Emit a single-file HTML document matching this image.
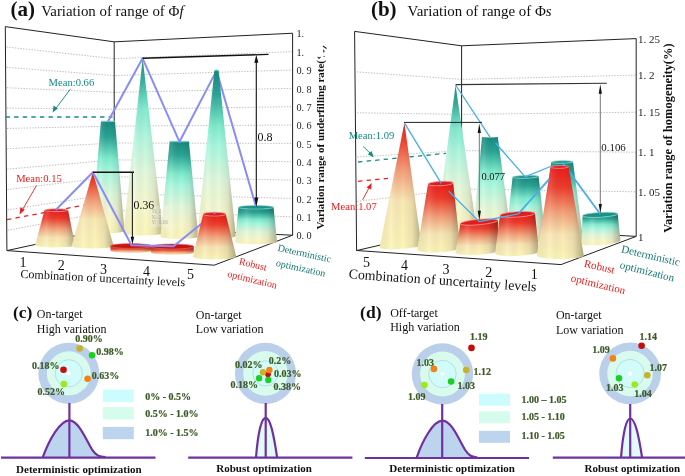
<!DOCTYPE html>
<html><head><meta charset="utf-8"><style>
html,body{margin:0;padding:0;background:#fff;width:685px;height:476px;overflow:hidden}
svg{display:block;will-change:transform}
text{font-family:"Liberation Serif", serif}
</style></head><body>
<svg width="685" height="476" viewBox="0 0 685 476">
<defs>
<linearGradient id="gT" x1="0" y1="0" x2="0" y2="1">
  <stop offset="0" stop-color="#178a7e"/>
  <stop offset="0.14" stop-color="#2aa494"/>
  <stop offset="0.33" stop-color="#7eeccd"/>
  <stop offset="0.45" stop-color="#a8f8df"/>
  <stop offset="0.66" stop-color="#e2f8dc"/>
  <stop offset="0.86" stop-color="#f9f8cc"/>
  <stop offset="1" stop-color="#fcf6ba"/>
</linearGradient>
<linearGradient id="gR" x1="0" y1="0" x2="0" y2="1">
  <stop offset="0" stop-color="#e81c1a"/>
  <stop offset="0.22" stop-color="#ee3c2c"/>
  <stop offset="0.5" stop-color="#f4a47c"/>
  <stop offset="0.73" stop-color="#f9e6b4"/>
  <stop offset="1" stop-color="#fcf6b8"/>
</linearGradient>
<linearGradient id="gTp" x1="0" y1="0" x2="0" y2="1">
  <stop offset="0" stop-color="#1a8c80"/>
  <stop offset="0.12" stop-color="#36ae9c"/>
  <stop offset="0.28" stop-color="#82eacf"/>
  <stop offset="0.45" stop-color="#b4f6e0"/>
  <stop offset="0.65" stop-color="#e4f8dc"/>
  <stop offset="0.85" stop-color="#f8f8cc"/>
  <stop offset="1" stop-color="#fcf6ba"/>
</linearGradient>
<linearGradient id="gRp" x1="0" y1="0" x2="0" y2="1">
  <stop offset="0" stop-color="#e81c1a"/>
  <stop offset="0.14" stop-color="#ee4430"/>
  <stop offset="0.38" stop-color="#f4a07c"/>
  <stop offset="0.62" stop-color="#f9e8b4"/>
  <stop offset="1" stop-color="#fcf6b8"/>
</linearGradient>
<linearGradient id="gS" x1="0" y1="0" x2="1" y2="0">
  <stop offset="0" stop-color="#000" stop-opacity="0.04"/>
  <stop offset="0.28" stop-color="#fff" stop-opacity="0.12"/>
  <stop offset="0.55" stop-color="#000" stop-opacity="0"/>
  <stop offset="0.78" stop-color="#000" stop-opacity="0.07"/>
  <stop offset="1" stop-color="#000" stop-opacity="0.3"/>
</linearGradient>
<linearGradient id="gDisk" x1="0" y1="0" x2="0" y2="1">
  <stop offset="0" stop-color="#d01818"/>
  <stop offset="0.45" stop-color="#e04a30"/>
  <stop offset="0.7" stop-color="#f4a878"/>
  <stop offset="1" stop-color="#f8ecc0"/>
</linearGradient>
</defs>
<rect width="685" height="476" fill="#fff"/>
<text x="10.6" y="15.8" font-size="21" fill="#111" font-weight="bold" text-anchor="start"  >(a)</text>
<text x="41.2" y="15.5" font-size="14.9" fill="#111">Variation of range of Φ<tspan font-style="italic">f</tspan></text>
<polyline points="7.75,230.24 114.2,210.44 292.6,216.84" stroke="#b4b4b4" stroke-width="0.85" stroke-dasharray="1.4 1.4" fill="none"/>
<polyline points="7.61,209.88 114.2,193.58 292.6,198.48" stroke="#b4b4b4" stroke-width="0.85" stroke-dasharray="1.4 1.4" fill="none"/>
<polyline points="7.46,189.52 114.2,176.72 292.6,180.12" stroke="#b4b4b4" stroke-width="0.85" stroke-dasharray="1.4 1.4" fill="none"/>
<polyline points="7.32,169.16 114.2,159.86 292.6,161.76" stroke="#b4b4b4" stroke-width="0.85" stroke-dasharray="1.4 1.4" fill="none"/>
<polyline points="7.17,148.8 114.2,143 292.6,143.4" stroke="#b4b4b4" stroke-width="0.85" stroke-dasharray="1.4 1.4" fill="none"/>
<polyline points="7.03,128.44 114.2,126.14 292.6,125.04" stroke="#b4b4b4" stroke-width="0.85" stroke-dasharray="1.4 1.4" fill="none"/>
<polyline points="6.88,108.08 114.2,109.28 292.6,106.68" stroke="#b4b4b4" stroke-width="0.85" stroke-dasharray="1.4 1.4" fill="none"/>
<polyline points="6.74,87.72 114.2,92.42 292.6,88.32" stroke="#b4b4b4" stroke-width="0.85" stroke-dasharray="1.4 1.4" fill="none"/>
<polyline points="6.59,67.36 114.2,75.56 292.6,69.96" stroke="#b4b4b4" stroke-width="0.85" stroke-dasharray="1.4 1.4" fill="none"/>
<polyline points="6.45,47 114.2,58.7 292.6,51.6" stroke="#b4b4b4" stroke-width="0.85" stroke-dasharray="1.4 1.4" fill="none"/>
<line x1="5.3" y1="26.64" x2="6.9" y2="250.6" stroke="#222" stroke-width="1" />
<polyline points="5.3,26.64 114.2,41.84 292.6,33.24 292.6,235.2" stroke="#222" stroke-width="1" fill="none" stroke-linejoin="round" />
<line x1="114.2" y1="41.84" x2="114.2" y2="227.3" stroke="#222" stroke-width="1" />
<polyline points="6.9,250.6 114.2,227.3 292.6,235.2" stroke="#222" stroke-width="1" fill="none" stroke-linejoin="round" />
<polyline points="6.9,250.6 214.2,265.2 292.6,235.2" stroke="#222" stroke-width="1" fill="none" stroke-linejoin="round" />
<text x="296.4" y="239.4" font-size="10.2" fill="#222" font-weight="normal" text-anchor="start"  >0. 0</text>
<text x="296.4" y="221.04" font-size="10.2" fill="#222" font-weight="normal" text-anchor="start"  >0. 1</text>
<text x="296.4" y="202.68" font-size="10.2" fill="#222" font-weight="normal" text-anchor="start"  >0. 2</text>
<text x="296.4" y="184.32" font-size="10.2" fill="#222" font-weight="normal" text-anchor="start"  >0. 3</text>
<text x="296.4" y="165.96" font-size="10.2" fill="#222" font-weight="normal" text-anchor="start"  >0. 4</text>
<text x="296.4" y="147.6" font-size="10.2" fill="#222" font-weight="normal" text-anchor="start"  >0. 5</text>
<text x="296.4" y="129.24" font-size="10.2" fill="#222" font-weight="normal" text-anchor="start"  >0. 6</text>
<text x="296.4" y="110.88" font-size="10.2" fill="#222" font-weight="normal" text-anchor="start"  >0. 7</text>
<text x="296.4" y="92.52" font-size="10.2" fill="#222" font-weight="normal" text-anchor="start"  >0. 8</text>
<text x="296.4" y="74.16" font-size="10.2" fill="#222" font-weight="normal" text-anchor="start"  >0. 9</text>
<text x="296.4" y="55.8" font-size="10.2" fill="#222" font-weight="normal" text-anchor="start"  >1.</text>
<text x="296.4" y="37.44" font-size="10.2" fill="#222" font-weight="normal" text-anchor="start"  >1.</text>
<text transform="translate(324.4,229.5) rotate(-90)" font-size="11" font-weight="bold" fill="#111">Variation range of underfilling rate(</text>
<path d="M317.6,57.4 Q319,59.6 320.6,57.4 Z" fill="#222" stroke="#222" stroke-width="0.6"/>
<circle cx="324.1" cy="56.4" r="0.65" fill="#333"/>
<ellipse cx="323.8" cy="51.1" rx="0.7" ry="1.6" fill="#333"/>
<line x1="323.3" y1="46.3" x2="326.2" y2="48.3" stroke="#222" stroke-width="1.1" stroke-linecap="round"/>
<line x1="5.5" y1="117" x2="112.5" y2="117" stroke="#148a84" stroke-width="1.3" stroke-dasharray="4.4 4.2"/>
<text x="48.6" y="86.4" font-size="10.6" fill="#148a84" font-weight="normal" text-anchor="start"  >Mean:0.66</text>
<line x1="70.5" y1="88.8" x2="55.5" y2="109" stroke="#148a84" stroke-width="0.9"/>
<path d="M52.6,112.6 L53.6,105.6 L57.8,108.6 Z" fill="#148a84"/>
<line x1="7" y1="219.6" x2="84" y2="205.2" stroke="#e8201e" stroke-width="1.3" stroke-dasharray="4.4 4.2"/>
<text x="16.2" y="181.7" font-size="10.6" fill="#e8201e" font-weight="normal" text-anchor="start"  >Mean:0.15</text>
<line x1="36.5" y1="185.5" x2="22" y2="210.5" stroke="#e8201e" stroke-width="0.9"/>
<path d="M19.6,214.6 L20.4,207.2 L24.8,209.8 Z" fill="#e8201e"/>
<path d="M101,121.3 L91.5,231 A16.5,2 0 0 0 124.5,231 L115,121.3 A7,0.25 0 0 1 101,121.3 Z" fill="url(#gT)"/>
<path d="M101,121.3 L91.5,231 A16.5,2 0 0 0 124.5,231 L115,121.3 A7,0.25 0 0 1 101,121.3 Z" fill="url(#gS)"/>
<ellipse cx="108" cy="121.3" rx="7" ry="0.25" fill="#1c9185" stroke="#7fd2c6" stroke-width="0.7"/>
<path d="M142.7,58.3 L123.4,233 A19.8,2.38 0 0 0 163,233 Z" fill="url(#gTp)"/>
<path d="M142.7,58.3 L123.4,233 A19.8,2.38 0 0 0 163,233 Z" fill="url(#gS)"/>
<path d="M169.7,141.5 L160.3,236.6 A19,2.28 0 0 0 198.3,236.6 L188.9,141.5 A9.6,0.3 0 0 1 169.7,141.5 Z" fill="url(#gT)"/>
<path d="M169.7,141.5 L160.3,236.6 A19,2.28 0 0 0 198.3,236.6 L188.9,141.5 A9.6,0.3 0 0 1 169.7,141.5 Z" fill="url(#gS)"/>
<ellipse cx="179.3" cy="141.5" rx="9.6" ry="0.3" fill="#1c9185" stroke="#7fd2c6" stroke-width="0.7"/>
<polyline points="108,121.5 142.6,58.3 179.5,141.8 216.5,70.6 256,206.6" stroke="#8a8cf8" stroke-width="2" fill="none" stroke-linejoin="round"/>
<path d="M214.4,70.4 L197.2,236 A19.3,2.32 0 0 0 235.8,236 L218.6,70.4 A2.1,0.3 0 0 1 214.4,70.4 Z" fill="url(#gT)"/>
<path d="M214.4,70.4 L197.2,236 A19.3,2.32 0 0 0 235.8,236 L218.6,70.4 A2.1,0.3 0 0 1 214.4,70.4 Z" fill="url(#gS)"/>
<ellipse cx="216.5" cy="70.4" rx="2.1" ry="0.3" fill="#1c9185" stroke="#7fd2c6" stroke-width="0.7"/>
<path d="M238.5,207.3 L235,241.8 A21,2.5 0 0 0 277,241.8 L273.5,207.3 A17.5,1.8 0 0 1 238.5,207.3 Z" fill="url(#gT)"/>
<path d="M238.5,207.3 L235,241.8 A21,2.5 0 0 0 277,241.8 L273.5,207.3 A17.5,1.8 0 0 1 238.5,207.3 Z" fill="url(#gS)"/>
<ellipse cx="256" cy="207.3" rx="17.5" ry="1.8" fill="#1c9185" stroke="#7fd2c6" stroke-width="0.7"/>
<path d="M44.5,210.2 L35.2,245 A19.9,2.6 0 0 0 75,245 L68.1,210.2 A11.8,1.4 0 0 1 44.5,210.2 Z" fill="url(#gR)"/>
<path d="M44.5,210.2 L35.2,245 A19.9,2.6 0 0 0 75,245 L68.1,210.2 A11.8,1.4 0 0 1 44.5,210.2 Z" fill="url(#gS)"/>
<ellipse cx="56.3" cy="210.2" rx="11.8" ry="1.4" fill="#e01c1c" stroke="#f59090" stroke-width="0.7"/>
<path d="M92.9,172 L71.6,246 A21,2.52 0 0 0 113.6,246 Z" fill="url(#gRp)"/>
<path d="M92.9,172 L71.6,246 A21,2.52 0 0 0 113.6,246 Z" fill="url(#gS)"/>
<path d="M110.5,246 L110.5,250.6 A20.5,2.4 0 0 0 151.5,250.6 L151.5,246 Z" fill="url(#gDisk)"/>
<path d="M110.5,246 L110.5,250.6 A20.5,2.4 0 0 0 151.5,250.6 L151.5,246 Z" fill="url(#gS)" opacity="0.5"/>
<ellipse cx="131" cy="246" rx="20.5" ry="2.4" fill="#c91212" stroke="#e86a6a" stroke-width="0.6"/>
<path d="M150.8,246.5 L150.8,252.3 A21.5,2.5 0 0 0 193.8,252.3 L193.8,246.5 Z" fill="url(#gDisk)"/>
<path d="M150.8,246.5 L150.8,252.3 A21.5,2.5 0 0 0 193.8,252.3 L193.8,246.5 Z" fill="url(#gS)" opacity="0.5"/>
<ellipse cx="172.3" cy="246.5" rx="21.5" ry="2.5" fill="#c91212" stroke="#e86a6a" stroke-width="0.6"/>
<polyline points="55.7,210 92.9,172.2 131.5,245.3 173.5,246.2 214.5,213.2" stroke="#8a8cf8" stroke-width="2" fill="none" stroke-linejoin="round"/>
<path d="M203.2,214.2 L192.7,256.8 A21.8,2.8 0 0 0 236.3,256.8 L225.8,214.2 A11.3,1.9 0 0 1 203.2,214.2 Z" fill="url(#gR)"/>
<path d="M203.2,214.2 L192.7,256.8 A21.8,2.8 0 0 0 236.3,256.8 L225.8,214.2 A11.3,1.9 0 0 1 203.2,214.2 Z" fill="url(#gS)"/>
<ellipse cx="214.5" cy="214.2" rx="11.3" ry="1.9" fill="#e01c1c" stroke="#f59090" stroke-width="0.7"/>
<line x1="214.3" y1="211.8" x2="214.6" y2="214.2" stroke="#8a8cf8" stroke-width="1.6"/>
<polyline points="92.9,172.3 134,172.3" stroke="#111" stroke-width="1.4" fill="none"/>
<line x1="132.4" y1="172.3" x2="132.4" y2="238" stroke="#222" stroke-width="1.1" />
<path d="M132.4,244.2 L130.6,236.7 L134.2,236.7 Z" fill="#111"/>
<text x="133.6" y="208.6" font-size="11.8" fill="#111" font-weight="normal" text-anchor="start"  >0.36</text>
<rect x="150.5" y="206" width="18" height="21" fill="#fff" opacity="0.22"/>
<g font-size="5.2" fill="#9a9a9a" opacity="0.8"><text x="151.5" y="213">Ti:</text><text x="158.8" y="213">2</text><text x="151.5" y="218.6">X:</text><text x="158.8" y="218.6">2</text><text x="151.5" y="224.4">Y:</text><text x="158.8" y="224.4">0.06</text></g>
<polyline points="142.6,58.3 268.5,54.4" stroke="#111" stroke-width="1.4" fill="none"/>
<line x1="256.3" y1="62" x2="256.3" y2="198" stroke="#111" stroke-width="1.1" />
<path d="M256.3,54.8 L254.3,62.8 L258.3,62.8 Z" fill="#111"/>
<path d="M256.3,207 L254.3,197.5 L258.3,197.5 Z" fill="#111"/>
<text x="257.4" y="141.2" font-size="12" fill="#111" font-weight="normal" text-anchor="start"  >0.8</text>
<text x="23.1" y="266.7" font-size="14" fill="#111" font-weight="normal" text-anchor="middle"  >1</text>
<text x="61.2" y="270" font-size="14" fill="#111" font-weight="normal" text-anchor="middle"  >2</text>
<text x="103.4" y="274.3" font-size="14" fill="#111" font-weight="normal" text-anchor="middle"  >3</text>
<text x="146.5" y="275.6" font-size="14" fill="#111" font-weight="normal" text-anchor="middle"  >4</text>
<text x="190.5" y="279" font-size="14" fill="#111" font-weight="normal" text-anchor="middle"  >5</text>
<text transform="translate(20.2,277.7) rotate(3)" font-size="12.1" fill="#111">Combination of uncertainty levels</text>
<text transform="translate(238.4,264.2) rotate(13.5)" font-size="10" fill="#e61e1e">Robust</text>
<text transform="translate(227,276.8) rotate(13.5)" font-size="10" fill="#e61e1e">optimization</text>
<text transform="translate(277.2,250.8) rotate(12.5)" font-size="10" fill="#137a74">Deterministic</text>
<text transform="translate(275.4,265.8) rotate(12.5)" font-size="10" fill="#137a74">optimization</text>
<text x="370.9" y="15.8" font-size="21" fill="#111" font-weight="bold" text-anchor="start"  >(b)</text>
<text x="407.6" y="15.5" font-size="14.9" fill="#111">Variation of range of Φ<tspan font-style="italic">s</tspan></text>
<polyline points="357.2,201.4 461.6,189 636.2,191.8" stroke="#b4b4b4" stroke-width="0.85" stroke-dasharray="1.4 1.4" fill="none"/>
<polyline points="357.4,157 461.6,150.6 636.2,152.2" stroke="#b4b4b4" stroke-width="0.85" stroke-dasharray="1.4 1.4" fill="none"/>
<polyline points="357.2,112.8 461.6,114.4 636.2,112.2" stroke="#b4b4b4" stroke-width="0.85" stroke-dasharray="1.4 1.4" fill="none"/>
<polyline points="357,71.9 461.6,79.4 636.2,75.1" stroke="#b4b4b4" stroke-width="0.85" stroke-dasharray="1.4 1.4" fill="none"/>
<line x1="354.6" y1="31.4" x2="356.6" y2="250.5" stroke="#222" stroke-width="1" />
<polyline points="354.6,31.4 461.6,45.8 636.2,38.6 636.2,236.4" stroke="#222" stroke-width="1" fill="none" stroke-linejoin="round" />
<line x1="461.6" y1="45.8" x2="461.6" y2="226.5" stroke="#222" stroke-width="1" />
<polyline points="356.6,250.5 461.6,226.5 636.2,236.4" stroke="#222" stroke-width="1" fill="none" stroke-linejoin="round" />
<polyline points="356.6,250.5 561,264.6 636.2,236.4" stroke="#222" stroke-width="1" fill="none" stroke-linejoin="round" />
<text x="638" y="42.8" font-size="11" fill="#222" font-weight="normal" text-anchor="start"  >1. 25</text>
<text x="638" y="79.3" font-size="11" fill="#222" font-weight="normal" text-anchor="start"  >1. 2</text>
<text x="638" y="116.4" font-size="11" fill="#222" font-weight="normal" text-anchor="start"  >1. 15</text>
<text x="638" y="156.4" font-size="11" fill="#222" font-weight="normal" text-anchor="start"  >1. 1</text>
<text x="638" y="196" font-size="11" fill="#222" font-weight="normal" text-anchor="start"  >1. 05</text>
<text x="638" y="240.6" font-size="11" fill="#222" font-weight="normal" text-anchor="start"  >1</text>
<text transform="translate(671.6,232.8) rotate(-90)" font-size="12.5" font-weight="bold" fill="#111">Variation range of homogeneity(%)</text>
<line x1="358" y1="162" x2="446" y2="153.3" stroke="#148a84" stroke-width="1.3" stroke-dasharray="4.4 4.2"/>
<text x="348.7" y="138.8" font-size="10.6" fill="#148a84" font-weight="normal" text-anchor="start"  >Mean:1.09</text>
<line x1="363" y1="146.3" x2="371.5" y2="154.5" stroke="#148a84" stroke-width="0.9"/>
<path d="M373.8,157.6 L367.8,154.2 L371.6,151 Z" fill="#148a84"/>
<line x1="358" y1="181.3" x2="392" y2="178" stroke="#e8201e" stroke-width="1.3" stroke-dasharray="4.4 4.2"/>
<text x="331.1" y="209.8" font-size="10.6" fill="#e8201e" font-weight="normal" text-anchor="start"  >Mean:1.07</text>
<line x1="362.6" y1="199.8" x2="369.5" y2="187" stroke="#e8201e" stroke-width="0.9"/>
<path d="M371.6,183 L371.2,189.6 L366.6,187.6 Z" fill="#e8201e"/>
<path d="M455.6,85.2 L435.3,236 A21.2,3 0.68 0 0 477.7,236.5 Z" fill="url(#gTp)"/>
<path d="M455.6,85.2 L435.3,236 A21.2,3 0.68 0 0 477.7,236.5 Z" fill="url(#gS)"/>
<path d="M482,137.1 L472.7,238 A19.4,3 0 0 0 511.5,238 L497.8,137.1 A7.9,0.3 0 0 1 482,137.1 Z" fill="url(#gT)"/>
<path d="M482,137.1 L472.7,238 A19.4,3 0 0 0 511.5,238 L497.8,137.1 A7.9,0.3 0 0 1 482,137.1 Z" fill="url(#gS)"/>
<path d="M512.6,177.2 L505.5,240 A20.1,3 0 0 0 545.7,240 L538.6,176.5 A13,1.4 -1.54 0 1 512.6,177.2 Z" fill="url(#gT)"/>
<path d="M512.6,177.2 L505.5,240 A20.1,3 0 0 0 545.7,240 L538.6,176.5 A13,1.4 -1.54 0 1 512.6,177.2 Z" fill="url(#gS)"/>
<ellipse cx="525.6" cy="176.85" rx="13" ry="1.4" transform="rotate(-1.54 525.6 176.85)" fill="#1c9185" stroke="#8ad6ca" stroke-width="0.7"/>
<path d="M551.2,162.1 L541,240 A21.1,3 0 0 0 583.2,240 L573,161.8 A10.9,1.3 -0.79 0 1 551.2,162.1 Z" fill="url(#gT)"/>
<path d="M551.2,162.1 L541,240 A21.1,3 0 0 0 583.2,240 L573,161.8 A10.9,1.3 -0.79 0 1 551.2,162.1 Z" fill="url(#gS)"/>
<ellipse cx="562.1" cy="161.95" rx="10.9" ry="1.3" transform="rotate(-0.79 562.1 161.95)" fill="#1c9185" stroke="#8ad6ca" stroke-width="0.7"/>
<polyline points="562.1,162 600.2,214" stroke="#46aef0" stroke-width="1.3" fill="none" stroke-linejoin="round"/>
<path d="M582.6,215.8 L581.3,243.5 A19.61,3 -4.39 0 0 620.4,240.5 L617.7,213.9 A17.58,2.4 -3.1 0 1 582.6,215.8 Z" fill="url(#gT)"/>
<path d="M582.6,215.8 L581.3,243.5 A19.61,3 -4.39 0 0 620.4,240.5 L617.7,213.9 A17.58,2.4 -3.1 0 1 582.6,215.8 Z" fill="url(#gS)"/>
<ellipse cx="600.15" cy="214.85" rx="17.58" ry="2.4" transform="rotate(-3.1 600.15 214.85)" fill="#1c9185" stroke="#8ad6ca" stroke-width="0.7"/>
<path d="M404.4,122.9 L379.6,247.4 A20.93,2.8 -3.29 0 0 421.4,245 Z" fill="url(#gRp)"/>
<path d="M404.4,122.9 L379.6,247.4 A20.93,2.8 -3.29 0 0 421.4,245 Z" fill="url(#gS)"/>
<path d="M428,184.2 L417.2,249.5 A21.52,3.8 -2.53 0 0 460.2,247.6 L453.2,182.9 A12.62,2.2 -2.95 0 1 428,184.2 Z" fill="url(#gR)"/>
<path d="M428,184.2 L417.2,249.5 A21.52,3.8 -2.53 0 0 460.2,247.6 L453.2,182.9 A12.62,2.2 -2.95 0 1 428,184.2 Z" fill="url(#gS)"/>
<ellipse cx="440.6" cy="183.55" rx="12.62" ry="2.2" transform="rotate(-2.95 440.6 183.55)" fill="#e01c1c" stroke="#f59a9a" stroke-width="0.7"/>
<path d="M460.4,223.7 L455.3,252.4 A21.37,3.5 -2.41 0 0 498,250.6 L497.9,220.3 A18.83,2.7 -5.18 0 1 460.4,223.7 Z" fill="url(#gR)"/>
<path d="M460.4,223.7 L455.3,252.4 A21.37,3.5 -2.41 0 0 498,250.6 L497.9,220.3 A18.83,2.7 -5.18 0 1 460.4,223.7 Z" fill="url(#gS)"/>
<ellipse cx="479.15" cy="222" rx="18.83" ry="2.7" transform="rotate(-5.18 479.15 222)" fill="#e01c1c" stroke="#f59a9a" stroke-width="0.7"/>
<polyline points="518.5,213.5 559.6,167" stroke="#46aef0" stroke-width="1.3" fill="none" stroke-linejoin="round"/>
<path d="M499.9,215.4 L495.1,253.5 A21.97,3.5 -2.61 0 0 539,251.5 L534.9,213.3 A17.53,2.7 -3.43 0 1 499.9,215.4 Z" fill="url(#gR)"/>
<path d="M499.9,215.4 L495.1,253.5 A21.97,3.5 -2.61 0 0 539,251.5 L534.9,213.3 A17.53,2.7 -3.43 0 1 499.9,215.4 Z" fill="url(#gS)"/>
<ellipse cx="517.4" cy="214.35" rx="17.53" ry="2.7" transform="rotate(-3.43 517.4 214.35)" fill="#e01c1c" stroke="#f59a9a" stroke-width="0.7"/>
<path d="M550.6,167.1 L536.8,255.5 A23.5,3.6 0 0 0 583.8,255.5 L568.6,166.8 A9,1.4 -0.95 0 1 550.6,167.1 Z" fill="url(#gR)"/>
<path d="M550.6,167.1 L536.8,255.5 A23.5,3.6 0 0 0 583.8,255.5 L568.6,166.8 A9,1.4 -0.95 0 1 550.6,167.1 Z" fill="url(#gS)"/>
<ellipse cx="559.6" cy="166.95" rx="9" ry="1.4" transform="rotate(-0.95 559.6 166.95)" fill="#e01c1c" stroke="#f59a9a" stroke-width="0.7"/>
<polyline points="455.6,85 490,137.1" stroke="#46aef0" stroke-width="1.3" fill="none" stroke-linejoin="round"/>
<polyline points="495.6,143 525.2,176.9 550.4,166.5" stroke="#46aef0" stroke-width="1.3" fill="none" stroke-linejoin="round"/>
<polyline points="570.5,173.5 600.2,214" stroke="#46aef0" stroke-width="1.3" fill="none" stroke-linejoin="round"/>
<polyline points="404.4,122.9 441.2,183.3" stroke="#46aef0" stroke-width="1.3" fill="none" stroke-linejoin="round"/>
<polyline points="448.8,191.2 479.2,221.6 518.5,213.8 549.5,179.4" stroke="#46aef0" stroke-width="1.3" fill="none" stroke-linejoin="round"/>
<polyline points="404.1,122.4 482,122.4" stroke="#222" stroke-width="1" fill="none"/>
<line x1="479.3" y1="130" x2="479.3" y2="213" stroke="#666" stroke-width="0.9" />
<path d="M479.3,123.6 L477.7,133.1 L480.9,133.1 Z" fill="#111"/>
<path d="M479.3,220.2 L477.7,210.7 L480.9,210.7 Z" fill="#111"/>
<text x="481.4" y="179.5" font-size="10.5" fill="#111" font-weight="normal" text-anchor="start"  >0.077</text>
<polyline points="455.6,84.6 606.8,83.3" stroke="#333" stroke-width="1.1" fill="none"/>
<line x1="600.3" y1="91" x2="600.3" y2="207" stroke="#666" stroke-width="0.9" />
<path d="M600.3,84.2 L598.7,93.7 L601.9,93.7 Z" fill="#111"/>
<path d="M600.3,213.6 L598.7,204.1 L601.9,204.1 Z" fill="#111"/>
<text x="601.3" y="151.2" font-size="10.9" fill="#111" font-weight="normal" text-anchor="start"  >0.106</text>
<text x="366.6" y="267.4" font-size="14" fill="#111" font-weight="normal" text-anchor="middle"  >5</text>
<text x="404.4" y="270" font-size="14" fill="#111" font-weight="normal" text-anchor="middle"  >4</text>
<text x="445.9" y="274" font-size="14" fill="#111" font-weight="normal" text-anchor="middle"  >3</text>
<text x="488.8" y="276.6" font-size="14" fill="#111" font-weight="normal" text-anchor="middle"  >2</text>
<text x="534.3" y="278.8" font-size="14" fill="#111" font-weight="normal" text-anchor="middle"  >1</text>
<text transform="translate(348.5,278.3) rotate(4)" font-size="13.8" fill="#111">Combination of uncertainty levels</text>
<text transform="translate(583.4,266.7) rotate(13)" font-size="11" fill="#e61e1e">Robust</text>
<text transform="translate(570.3,281.2) rotate(13.5)" font-size="11" fill="#e61e1e">optimization</text>
<text transform="translate(620.7,252.3) rotate(13.2)" font-size="11" fill="#137a74">Deterministic</text>
<text transform="translate(619.3,268.1) rotate(14)" font-size="11" fill="#137a74">optimization</text>
<text x="13" y="318" font-size="17.5" fill="#111" font-weight="bold" text-anchor="start"  >(c)</text>
<text x="36.8" y="318.3" font-size="12" fill="#111" font-weight="normal" text-anchor="start"  >On-target</text>
<text x="36.8" y="332.8" font-size="12" fill="#111" font-weight="normal" text-anchor="start"  >High variation</text>
<text x="195.8" y="318.7" font-size="12" fill="#111" font-weight="normal" text-anchor="start"  >On-target</text>
<text x="195.8" y="333.4" font-size="12" fill="#111" font-weight="normal" text-anchor="start"  >Low variation</text>
<path d="M42.9,457.2 C48.9,440.21 59.9,420.4 69.5,420.4 C78.4,420.4 86.4,440.31 91.9,449.36 C95.9,455.39 98.9,456.8 105.5,457.2 Z" fill="#bcd4ee"/>
<path d="M42.9,457.2 C48.9,440.21 59.9,420.4 69.5,420.4 C78.4,420.4 86.4,440.31 91.9,449.36 C95.9,455.39 98.9,456.8 105.5,457.2" fill="none" stroke="#7030a0" stroke-width="2.2" stroke-linejoin="round"/>
<circle cx="68.8" cy="373.3" r="30.5" fill="#bad0ea"/>
<circle cx="68.8" cy="373.3" r="22" fill="#d8fbee"/>
<circle cx="68.8" cy="373.3" r="13.6" fill="#d2fbfb" stroke="#8cc8c8" stroke-width="0.5"/>
<circle cx="68.8" cy="373.3" r="2.6" fill="#fff" stroke="#cfeaea" stroke-width="0.5"/>
<circle cx="79.6" cy="348.4" r="3.3" fill="#c8b22a"/>
<circle cx="92.1" cy="355.3" r="3.3" fill="#1ad024"/>
<circle cx="63.5" cy="369.7" r="3.3" fill="#c80c0c"/>
<circle cx="87.6" cy="378.8" r="3.3" fill="#f58212"/>
<circle cx="63.8" cy="384.1" r="3.3" fill="#96ee16"/>
<text x="75.2" y="341.9" font-size="10" fill="#3b5a25" font-weight="bold" text-anchor="start"  stroke="#3b5a25" stroke-width="0.2">0.90%</text>
<text x="96.2" y="355.1" font-size="10" fill="#3b5a25" font-weight="bold" text-anchor="start"  stroke="#3b5a25" stroke-width="0.2">0.98%</text>
<text x="31.9" y="369.2" font-size="10" fill="#3b5a25" font-weight="bold" text-anchor="start"  stroke="#3b5a25" stroke-width="0.2">0.18%</text>
<text x="91.8" y="379.3" font-size="10" fill="#3b5a25" font-weight="bold" text-anchor="start"  stroke="#3b5a25" stroke-width="0.2">0.63%</text>
<text x="37.4" y="395" font-size="10" fill="#3b5a25" font-weight="bold" text-anchor="start"  stroke="#3b5a25" stroke-width="0.2">0.52%</text>
<rect x="102.8" y="389.6" width="31" height="12.3" fill="#ccfcfe"/>
<rect x="102.8" y="407.1" width="31" height="12.3" fill="#d6fcee"/>
<rect x="102.8" y="426.9" width="31" height="12.3" fill="#bcd4ee"/>
<text x="145.2" y="399.5" font-size="10" fill="#3b5a25" font-weight="bold" text-anchor="start"  stroke="#3b5a25" stroke-width="0.2">0% - 0.5%</text>
<text x="145.2" y="416.7" font-size="10" fill="#3b5a25" font-weight="bold" text-anchor="start"  stroke="#3b5a25" stroke-width="0.2">0.5% - 1.0%</text>
<text x="145.2" y="435.9" font-size="10" fill="#3b5a25" font-weight="bold" text-anchor="start"  stroke="#3b5a25" stroke-width="0.2">1.0% - 1.5%</text>
<line x1="1" y1="457.6" x2="155.5" y2="457.6" stroke="#7030a0" stroke-width="2.2"/>
<line x1="69.4" y1="403" x2="69.4" y2="457.6" stroke="#7030a0" stroke-width="2.2"/>
<text x="78.9" y="472.8" font-size="11" fill="#111" font-weight="bold" text-anchor="middle"  >Deterministic optimization</text>
<path d="M256,457.5 C257.92,433.68 261.28,417.8 265.6,417.8 C270.2,417.8 273.65,433.68 277.1,457.5 Z" fill="#e2fafa"/>
<path d="M256,457.5 C257.92,433.68 261.28,417.8 265.6,417.8 C270.2,417.8 273.65,433.68 277.1,457.5" fill="none" stroke="#7030a0" stroke-width="2.2" stroke-linejoin="round"/>
<circle cx="265.5" cy="373.4" r="30.6" fill="#bad0ea"/>
<circle cx="265.5" cy="373.4" r="22.3" fill="#d8fbee"/>
<circle cx="265.5" cy="373.4" r="12.6" fill="#d2fbfb" stroke="#8cc8c8" stroke-width="0.5"/>
<circle cx="265.5" cy="373.4" r="2.6" fill="#fff" stroke="#cfeaea" stroke-width="0.5"/>
<circle cx="268" cy="374.3" r="2.9" fill="#c80c0c"/>
<circle cx="263" cy="372.3" r="3.2" fill="#c8b22a"/>
<circle cx="269.4" cy="370" r="3.2" fill="#f58212"/>
<circle cx="259.1" cy="378.3" r="3.2" fill="#1ad024"/>
<circle cx="268.3" cy="380" r="3.2" fill="#1ad024"/>
<text x="235" y="367.6" font-size="10" fill="#3b5a25" font-weight="bold" text-anchor="start"  stroke="#3b5a25" stroke-width="0.2">0.02%</text>
<text x="268.7" y="364.1" font-size="10" fill="#3b5a25" font-weight="bold" text-anchor="start"  stroke="#3b5a25" stroke-width="0.2">0.2%</text>
<text x="273.9" y="376.7" font-size="10" fill="#3b5a25" font-weight="bold" text-anchor="start"  stroke="#3b5a25" stroke-width="0.2">0.03%</text>
<text x="230.4" y="388.2" font-size="10" fill="#3b5a25" font-weight="bold" text-anchor="start"  stroke="#3b5a25" stroke-width="0.2">0.18%</text>
<text x="273.5" y="389.7" font-size="10" fill="#3b5a25" font-weight="bold" text-anchor="start"  stroke="#3b5a25" stroke-width="0.2">0.38%</text>
<line x1="188.2" y1="457.6" x2="352.4" y2="457.6" stroke="#7030a0" stroke-width="2.2"/>
<line x1="265.7" y1="403" x2="265.7" y2="457.6" stroke="#7030a0" stroke-width="2.2"/>
<text x="264.1" y="472.3" font-size="11" fill="#111" font-weight="bold" text-anchor="middle"  >Robust optimization</text>
<text x="360.1" y="317.8" font-size="17.5" fill="#111" font-weight="bold" text-anchor="start"  >(d)</text>
<text x="390.2" y="316.8" font-size="12" fill="#111" font-weight="normal" text-anchor="start"  >Off-target</text>
<text x="390.2" y="330.5" font-size="12" fill="#111" font-weight="normal" text-anchor="start"  >High variation</text>
<text x="555.9" y="319.3" font-size="12" fill="#111" font-weight="normal" text-anchor="start"  >On-target</text>
<text x="555.9" y="333.6" font-size="12" fill="#111" font-weight="normal" text-anchor="start"  >Low variation</text>
<path d="M416.7,457.6 C422.54,440.56 433.25,420.7 442.6,420.7 C451.5,420.7 459.5,440.66 465,449.74 C469,455.79 472,457.2 477.6,457.6 Z" fill="#bcd4ee"/>
<path d="M416.7,457.6 C422.54,440.56 433.25,420.7 442.6,420.7 C451.5,420.7 459.5,440.66 465,449.74 C469,455.79 472,457.2 477.6,457.6" fill="none" stroke="#7030a0" stroke-width="2.2" stroke-linejoin="round"/>
<circle cx="442.5" cy="374" r="30.7" fill="#bad0ea"/>
<circle cx="442.5" cy="374" r="22.4" fill="#d8fbee"/>
<circle cx="442.5" cy="374" r="13.7" fill="#d2fbfb" stroke="#8cc8c8" stroke-width="0.5"/>
<circle cx="442.5" cy="374" r="2.6" fill="#fff" stroke="#cfeaea" stroke-width="0.5"/>
<circle cx="471.5" cy="347.9" r="3.3" fill="#c80c0c"/>
<circle cx="433.9" cy="368.9" r="3.3" fill="#f58212"/>
<circle cx="466.2" cy="370" r="3.3" fill="#c8b22a"/>
<circle cx="451.1" cy="381.5" r="3.3" fill="#1ad024"/>
<circle cx="424.4" cy="385.1" r="3.3" fill="#96ee16"/>
<text x="470" y="340.2" font-size="10" fill="#3b5a25" font-weight="bold" text-anchor="start"  stroke="#3b5a25" stroke-width="0.2">1.19</text>
<text x="416.4" y="366" font-size="10" fill="#3b5a25" font-weight="bold" text-anchor="start"  stroke="#3b5a25" stroke-width="0.2">1.03</text>
<text x="473.6" y="374.6" font-size="10" fill="#3b5a25" font-weight="bold" text-anchor="start"  stroke="#3b5a25" stroke-width="0.2">1.12</text>
<text x="457.4" y="388.5" font-size="10" fill="#3b5a25" font-weight="bold" text-anchor="start"  stroke="#3b5a25" stroke-width="0.2">1.03</text>
<text x="408" y="400" font-size="10" fill="#3b5a25" font-weight="bold" text-anchor="start"  stroke="#3b5a25" stroke-width="0.2">1.09</text>
<rect x="479" y="393.7" width="31" height="12" fill="#ccfcfe"/>
<rect x="479" y="411.3" width="31" height="12" fill="#d6fcee"/>
<rect x="479" y="430.8" width="31" height="12" fill="#bcd4ee"/>
<text x="521.4" y="402.6" font-size="10" fill="#3b5a25" font-weight="bold" text-anchor="start"  stroke="#3b5a25" stroke-width="0.2">1.00 – 1.05</text>
<text x="521.4" y="420.1" font-size="10" fill="#3b5a25" font-weight="bold" text-anchor="start"  stroke="#3b5a25" stroke-width="0.2">1.05 - 1.10</text>
<text x="521.4" y="439.4" font-size="10" fill="#3b5a25" font-weight="bold" text-anchor="start"  stroke="#3b5a25" stroke-width="0.2">1.10 - 1.05</text>
<line x1="364.8" y1="458" x2="529" y2="458" stroke="#7030a0" stroke-width="2.2"/>
<line x1="442.2" y1="404" x2="442.2" y2="458" stroke="#7030a0" stroke-width="2.2"/>
<text x="452.1" y="472.2" font-size="11" fill="#111" font-weight="bold" text-anchor="middle"  >Deterministic optimization</text>
<path d="M621,457.7 C622.84,434.18 626.06,418.5 630.2,418.5 C634.96,418.5 638.53,434.18 642.1,457.7 Z" fill="#e2fafa"/>
<path d="M621,457.7 C622.84,434.18 626.06,418.5 630.2,418.5 C634.96,418.5 638.53,434.18 642.1,457.7" fill="none" stroke="#7030a0" stroke-width="2.2" stroke-linejoin="round"/>
<circle cx="630.1" cy="373.5" r="30.9" fill="#bad0ea"/>
<circle cx="630.1" cy="373.5" r="22.8" fill="#d8fbee"/>
<circle cx="630.1" cy="373.5" r="14.1" fill="#d2fbfb" stroke="#8cc8c8" stroke-width="0.5"/>
<circle cx="630.1" cy="373.5" r="2.6" fill="#fff" stroke="#cfeaea" stroke-width="0.5"/>
<circle cx="641.6" cy="345.8" r="3.3" fill="#c80c0c"/>
<circle cx="612.9" cy="358.4" r="3.3" fill="#f58212"/>
<circle cx="647.3" cy="375.2" r="3.3" fill="#c8b22a"/>
<circle cx="619" cy="378.2" r="3.3" fill="#1ad024"/>
<circle cx="634.7" cy="384.5" r="3.3" fill="#96ee16"/>
<text x="639.5" y="340.2" font-size="10" fill="#3b5a25" font-weight="bold" text-anchor="start"  stroke="#3b5a25" stroke-width="0.2">1.14</text>
<text x="592.3" y="353.4" font-size="10" fill="#3b5a25" font-weight="bold" text-anchor="start"  stroke="#3b5a25" stroke-width="0.2">1.09</text>
<text x="649.6" y="371" font-size="10" fill="#3b5a25" font-weight="bold" text-anchor="start"  stroke="#3b5a25" stroke-width="0.2">1.07</text>
<text x="605.9" y="390.6" font-size="10" fill="#3b5a25" font-weight="bold" text-anchor="start"  stroke="#3b5a25" stroke-width="0.2">1.03</text>
<text x="634.3" y="396.9" font-size="10" fill="#3b5a25" font-weight="bold" text-anchor="start"  stroke="#3b5a25" stroke-width="0.2">1.04</text>
<line x1="552.8" y1="457.7" x2="685" y2="457.7" stroke="#7030a0" stroke-width="2.2"/>
<line x1="630.2" y1="404" x2="630.2" y2="457.7" stroke="#7030a0" stroke-width="2.2"/>
<text x="632.4" y="471.5" font-size="11" fill="#111" font-weight="bold" text-anchor="middle"  >Robust optimization</text>
</svg>
</body></html>
